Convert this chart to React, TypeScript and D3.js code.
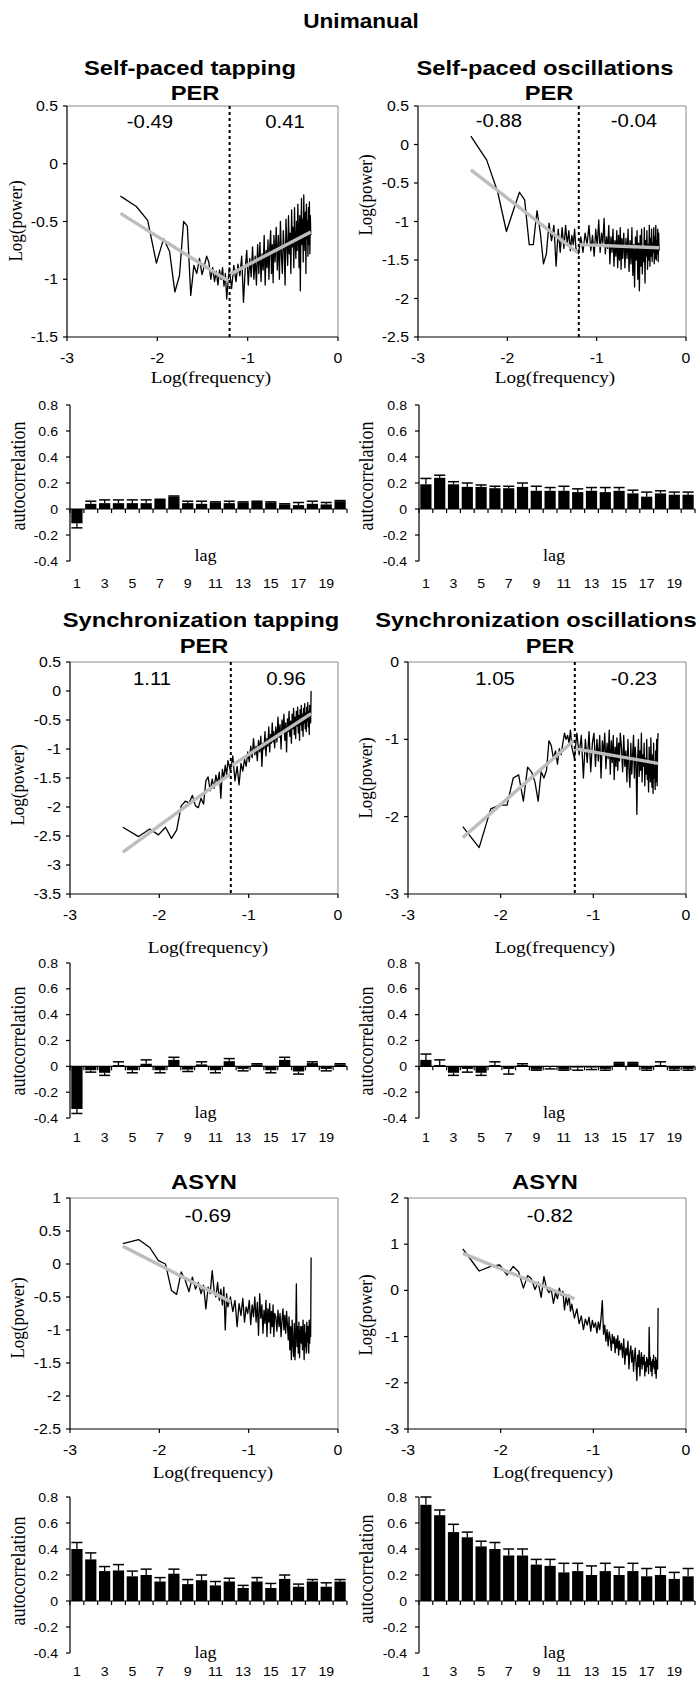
import React from "react";
import * as d3 from "d3";

const SANS = "'Liberation Sans', Arial, Helvetica, sans-serif";
const SERIF = "'Liberation Serif', 'Times New Roman', serif";
const SX = 1.13;

// frequency grid: log10(k / 512)
const FREQ_INDEX = [...d3.range(2, 31), ...d3.range(32, 101, 2), ...d3.range(103, 257, 3)];
const LOG_FREQ = FREQ_INDEX.map((k) => Math.log10(k / 512));

const PER_SP_TAP = [
  -0.28, -0.37, -0.49, -0.86, -0.65, -0.76, -1.11, -0.97, -0.5, -0.54, -1.14, -0.88, -0.95, -0.82, -0.96, -0.88, -0.8, -0.85, -1.0, -0.9, -1.02, -0.93, -1.05, -0.92, -1.0, -0.9, -1.06, -0.95, -1.17,
  -0.9, -1.08, -0.88, -1.02, -0.87, -0.97, -0.8, -1.2, -0.92, -0.75, -1.05, -0.82, -0.98, -0.72, -1.0, -0.8, -1.05, -0.7, -0.95, -0.68, -1.02, -0.78, -0.92, -0.62, -1.05, -0.75, -0.9, -0.66, -1.0, -0.72, -0.58, -0.95, -0.7, -1.03, -0.62,
  -0.85, -0.55, -0.92, -0.62, -1.0, -0.5, -0.8, -0.95, -0.58, -0.75, -1.05, -0.48, -0.7, -0.88, -0.45, -0.78, -0.6, -0.95, -0.4, -0.72, -0.55, -0.9, -0.38, -0.68, -0.82, -0.5, -0.75, -0.35, -0.62, -0.9, -0.45, -1.1, -0.55, -0.3, -0.7, -0.48, -0.85, -0.27, -0.6, -0.75, -0.42, -0.95, -0.35, -0.65, -0.5, -0.8, -0.38, -0.7, -0.33, -0.78, -0.45, -0.62,
];
const PER_SP_OSC = [
  0.11, -0.2, -0.62, -1.13, -0.85, -0.62, -0.72, -1.3, -1.3, -0.86, -1.15, -1.55, -1.42, -1.02, -1.25, -1.05, -1.58, -1.1, -1.4, -1.08, -1.35, -1.05, -1.3, -1.12, -1.38, -1.18, -1.3, -1.1, -1.35,
  -1.42, -1.2, -1.4, -1.15, -1.3, -1.05, -1.38, -1.18, -1.45, -1.1, -1.32, -0.98, -1.4, -1.15, -1.28, -0.96, -1.42, -1.2, -1.35, -1.05, -1.55, -1.2, -1.4, -1.1, -1.58, -1.25, -1.45, -1.12, -1.6, -1.18, -1.5, -1.08, -1.62, -1.22, -1.48,
  -1.15, -1.6, -1.22, -1.48, -1.1, -1.65, -1.25, -1.55, -1.08, -1.7, -1.3, -1.85, -1.2, -1.5, -1.12, -1.75, -1.28, -1.9, -1.18, -1.58, -1.1, -1.68, -1.35, -1.52, -1.08, -1.8, -1.25, -1.45, -1.12, -1.62, -1.3, -1.5, -1.05, -1.58, -1.22, -1.45, -1.1, -1.52, -1.28, -1.4, -1.08, -1.55, -1.2, -1.48, -1.05, -1.5, -1.25, -1.42, -1.1, -1.52, -1.15, -1.38,
];
const PER_SYNC_TAP = [
  -2.35, -2.51, -2.38, -2.48, -2.35, -2.54, -2.4, -1.98, -1.9, -1.93, -1.8, -1.98, -2.01, -1.85, -1.95, -1.55, -1.48, -1.72, -1.52, -1.68, -1.45, -1.6, -1.4, -1.85, -1.35, -1.5, -1.28, -1.45, -1.2,
  -1.38, -1.12, -1.55, -1.3, -1.62, -1.25, -1.38, -1.18, -1.3, -1.05, -1.22, -0.95, -1.15, -0.82, -1.1, -0.95, -1.2, -0.85, -1.05, -0.78, -1.3, -0.9, -1.0, -0.7, -1.12, -0.82, -0.95, -0.62, -1.05, -0.75, -0.9, -0.55, -0.88, -0.7, -0.98,
  -0.62, -0.88, -0.45, -0.8, -0.58, -1.0, -0.5, -0.72, -0.4, -0.85, -0.55, -1.05, -0.48, -0.7, -0.35, -0.78, -0.52, -0.9, -0.4, -0.65, -0.3, -0.75, -0.45, -0.82, -0.35, -0.6, -0.28, -0.72, -0.42, -0.85, -0.32, -0.58, -0.25, -0.68, -0.4, -0.78, -0.3, -0.55, -0.22, -0.65, -0.38, -0.7, -0.28, -0.52, -0.2, -0.62, -0.35, -0.75, -0.25, -0.48, -0.55, 0.0,
];
const PER_SYNC_OSC = [
  -2.13, -2.4, -1.9, -1.85, -1.85, -1.5, -1.46, -1.8, -1.36, -1.42, -1.55, -1.8, -1.42, -1.5, -1.4, -1.02, -1.08, -1.25, -1.15, -1.32, -1.12, -1.2, -1.05, -0.92, -1.0, -0.95, -1.05, -0.88, -1.1,
  -1.25, -0.92, -1.2, -0.95, -1.5, -1.0, -1.3, -0.9, -1.42, -1.05, -0.92, -1.35, -1.0, -1.28, -0.95, -1.5, -1.02, -1.2, -0.92, -1.38, -1.05, -1.25, -0.88, -1.45, -1.02, -1.3, -0.95, -1.52, -1.1, -1.35, -0.98, -1.4, -1.05, -1.28, -0.92,
  -1.1, -1.42, -0.95, -1.35, -1.15, -1.55, -1.0, -1.38, -1.62, -1.05, -1.45, -1.2, -0.95, -1.5, -1.1, -1.3, -1.97, -1.25, -1.0, -1.48, -1.15, -1.4, -0.92, -1.55, -1.2, -1.35, -1.05, -1.6, -1.25, -1.45, -1.0, -1.52, -1.3, -1.68, -1.1, -1.4, -1.55, -0.98, -1.45, -1.62, -1.2, -1.7, -1.05, -1.5, -1.35, -1.65, -1.15, -1.55, -1.0, -1.6, -1.05, -0.92,
];
const ASYN_TAP = [
  0.31, 0.37, 0.25, 0.05, 0.0, -0.4, -0.46, -0.12, -0.25, -0.42, -0.2, -0.38, -0.28, -0.45, -0.32, -0.68, -0.35, -0.45, -0.1, -0.4, -0.5, -0.28, -0.55, -0.38, -0.62, -0.35, -1.0, -0.45, -0.65,
  -0.5, -0.72, -0.55, -0.95, -0.6, -0.78, -0.52, -0.88, -0.65, -0.75, -0.55, -0.92, -0.62, -0.8, -0.5, -0.88, -0.58, -1.08, -0.45, -0.82, -0.62, -1.05, -0.7, -0.9, -0.55, -1.1, -0.68, -0.88, -0.6, -1.05, -0.72, -0.95, -0.62, -1.1, -0.75,
  -0.8, -1.02, -0.7, -0.95, -0.75, -1.1, -0.85, -0.68, -1.0, -0.78, -1.05, -0.72, -0.92, -1.15, -0.8, -1.3, -0.95, -1.45, -0.85, -1.2, -1.4, -0.9, -1.45, -1.1, -0.3, -1.25, -0.95, -1.35, -0.88, -1.42, -1.05, -0.95, -1.2, -0.95, -1.3, -0.85, -1.15, -1.45, -0.92, -1.25, -1.05, -1.35, -0.88, -1.18, -0.95, -1.3, -1.35, -0.85, -1.2, -0.92, -1.1, 0.1,
];
const ASYN_OSC = [
  0.9, 0.42, 0.52, 0.55, 0.33, 0.52, 0.4, 0.05, 0.32, 0.25, 0.02, 0.18, -0.15, 0.3, 0.05, -0.05, 0.02, -0.28, -0.05, -0.18, 0.05, -0.1, -0.02, -0.42, -0.15, -0.32, -0.1, -0.45, -0.3,
  -0.6, -0.4, -0.72, -0.55, -0.85, -0.62, -0.75, -0.58, -0.88, -0.65, -0.8, -0.7, -0.92, -0.68, -0.85, -0.6, -0.22, -0.95, -0.75, -1.1, -0.85, -1.2, -0.9, -1.05, -1.3, -0.95, -1.15, -1.0, -1.35, -1.05, -1.25, -0.98, -1.4, -1.1, -1.28,
  -1.15, -1.45, -1.05, -1.6, -1.25, -1.4, -1.1, -1.7, -1.35, -1.2, -1.55, -1.3, -1.75, -1.45, -1.25, -1.6, -1.95, -1.4, -1.65, -1.3, -1.85, -1.5, -1.35, -1.7, -1.45, -1.6, -1.4, -1.85, -1.55, -1.75, -1.45, -1.65, -1.5, -1.8, -0.8, -1.6, -1.45, -1.75, -1.55, -1.85, -1.5, -1.65, -1.4, -1.7, -1.55, -1.8, -1.45, -1.9, -1.6, -1.5, -1.7, -0.38,
];

// linear fits: [logFreq, logPower] endpoints
const FIT_SP_TAP = [[[-2.408, -0.43], [-1.204, -1.02]], [[-1.204, -0.96], [-0.301, -0.59]]];
const FIT_SP_OSC = [[[-2.408, -0.33], [-1.204, -1.41]], [[-1.204, -1.3], [-0.301, -1.34]]];
const FIT_SYNC_TAP = [[[-2.408, -2.78], [-1.204, -1.43]], [[-1.204, -1.3], [-0.301, -0.39]]];
const FIT_SYNC_OSC = [[[-2.408, -2.27], [-1.204, -1.01]], [[-1.204, -1.12], [-0.301, -1.31]]];
const FIT_ASYN_TAP = [[[-2.408, 0.27], [-1.204, -0.57]]];
const FIT_ASYN_OSC = [[[-2.408, 0.8], [-1.204, -0.18]]];

const X_TICKS = [-3, -2, -1, 0];

// autocorrelation
const LAGS = d3.range(1, 21);
const LAG_LABELS = [1, 3, 5, 7, 9, 11, 13, 15, 17, 19];
const ACF_TICKS = [-0.4, -0.2, 0, 0.2, 0.4, 0.6, 0.8];

const ACF_SP_TAP = [-0.11, 0.04, 0.045, 0.045, 0.045, 0.045, 0.07, 0.095, 0.045, 0.04, 0.05, 0.045, 0.05, 0.055, 0.05, 0.035, 0.03, 0.04, 0.035, 0.06];
const ERR_SP_TAP = [0.035, 0.02, 0.025, 0.025, 0.025, 0.025, 0.005, 0.005, 0.015, 0.02, 0.005, 0.015, 0.005, 0.005, 0.005, 0.005, 0.02, 0.02, 0.015, 0.005];
const ACF_SP_OSC = [0.19, 0.24, 0.19, 0.17, 0.17, 0.16, 0.16, 0.17, 0.14, 0.14, 0.14, 0.13, 0.14, 0.13, 0.14, 0.12, 0.095, 0.12, 0.11, 0.11];
const ERR_SP_OSC = [0.045, 0.02, 0.02, 0.03, 0.015, 0.015, 0.015, 0.03, 0.035, 0.025, 0.035, 0.025, 0.025, 0.035, 0.025, 0.025, 0.035, 0.02, 0.02, 0.02];
const ACF_SYNC_TAP = [-0.33, -0.03, -0.05, 0.01, -0.03, 0.02, -0.03, 0.05, -0.025, 0.015, -0.03, 0.04, -0.02, 0.015, -0.03, 0.05, -0.04, 0.025, -0.02, 0.015];
const ERR_SYNC_TAP = [0.035, 0.015, 0.02, 0.025, 0.02, 0.03, 0.02, 0.02, 0.015, 0.02, 0.02, 0.02, 0.015, 0.005, 0.02, 0.02, 0.02, 0.01, 0.015, 0.005];
const ACF_SYNC_OSC = [0.05, 0.01, -0.05, -0.02, -0.05, 0.01, -0.02, 0.01, -0.025, -0.005, -0.025, -0.01, -0.01, -0.02, 0.025, 0.025, -0.02, 0.01, -0.02, -0.02];
const ERR_SYNC_OSC = [0.045, 0.04, 0.02, 0.025, 0.02, 0.025, 0.04, 0.01, 0.005, 0.015, 0.005, 0.02, 0.015, 0.01, 0.005, 0.005, 0.01, 0.025, 0.01, 0.01];
const ACF_ASYN_TAP = [0.4, 0.32, 0.23, 0.235, 0.19, 0.2, 0.15, 0.21, 0.13, 0.16, 0.12, 0.15, 0.1, 0.15, 0.1, 0.17, 0.11, 0.15, 0.11, 0.15];
const ERR_ASYN_TAP = [0.05, 0.05, 0.035, 0.045, 0.04, 0.045, 0.03, 0.035, 0.035, 0.04, 0.03, 0.025, 0.02, 0.03, 0.035, 0.03, 0.02, 0.015, 0.03, 0.015];
const ACF_ASYN_OSC = [0.74, 0.66, 0.53, 0.49, 0.42, 0.4, 0.35, 0.35, 0.28, 0.27, 0.22, 0.23, 0.2, 0.23, 0.2, 0.23, 0.19, 0.2, 0.17, 0.19];
const ERR_ASYN_OSC = [0.06, 0.04, 0.06, 0.04, 0.04, 0.05, 0.05, 0.05, 0.04, 0.05, 0.07, 0.06, 0.07, 0.06, 0.06, 0.06, 0.06, 0.06, 0.05, 0.06];

const fmt = (v: number) => String(Math.round(v * 10) / 10);

type TxtProps = {
  x: number; y: number; size: number; text: string;
  anchor?: string; weight?: string; family?: string; rot?: boolean;
};
function Txt({ x, y, size, text, anchor = "middle", weight = "normal", family = SANS, rot = false }: TxtProps) {
  const tf = rot
    ? `translate(${x},${y}) rotate(-90) scale(1,${SX})`
    : `translate(${x},${y}) scale(${SX},1)`;
  return (
    <text
      transform={tf}
      fontSize={size}
      fontFamily={family}
      fontWeight={weight}
      textAnchor={anchor}
      dominantBaseline={rot ? "central" : "auto"}
      fill="#000"
    >
      {text}
    </text>
  );
}

type PerCfg = {
  left: number; right: number; top: number; bottom: number;
  yMin: number; yMax: number; yStep: number;
  values: number[]; fits: number[][][];
  breakAt: number | null;
  slopes: { text: string; cx: number }[]; slopeY: number;
  titles: { text: string; cx: number; y: number }[];
  tickY: number; xLabel: { cx: number; y: number }; yLabel: { cx: number; cy: number };
};

function PerPanel({ p }: { p: PerCfg }) {
  const x = d3.scaleLinear().domain([-3, 0]).range([p.left, p.right]);
  const y = d3.scaleLinear().domain([p.yMin, p.yMax]).range([p.bottom, p.top]);
  const line = d3.line<number[]>().x((d) => x(d[0])).y((d) => y(d[1]));
  const pts = d3.zip(LOG_FREQ, p.values);
  const yTicks = d3.range(p.yMin, p.yMax + 1e-6, p.yStep);
  return (
    <g>
      <line x1={p.left} x2={p.right} y1={p.top} y2={p.top} stroke="#8a8a8a" strokeWidth={1} />
      <line x1={p.right} x2={p.right} y1={p.top} y2={p.bottom} stroke="#8a8a8a" strokeWidth={1} />
      <path d={line(pts) || ""} fill="none" stroke="#000" strokeWidth={1.3} strokeLinejoin="round" />
      {p.fits.map((f, i) => (
        <path key={i} d={line(f) || ""} fill="none" stroke="#bdbdbd" strokeWidth={3.4} />
      ))}
      {p.breakAt !== null && (
        <line x1={x(p.breakAt)} x2={x(p.breakAt)} y1={p.top} y2={p.bottom} stroke="#000" strokeWidth={2} strokeDasharray="3,3" />
      )}
      <line x1={p.left} x2={p.left} y1={p.top} y2={p.bottom} stroke="#000" strokeWidth={1.2} />
      <line x1={p.left} x2={p.right} y1={p.bottom} y2={p.bottom} stroke="#000" strokeWidth={1.2} />
      {yTicks.map((v) => (
        <g key={"y" + v}>
          <line x1={p.left - 4} x2={p.left} y1={y(v)} y2={y(v)} stroke="#000" strokeWidth={1.2} />
          <Txt x={p.left - 9} y={y(v) + 5} size={14} text={fmt(v)} anchor="end" />
        </g>
      ))}
      {X_TICKS.map((v) => (
        <g key={"x" + v}>
          <line x1={x(v)} x2={x(v)} y1={p.bottom} y2={p.bottom + 4} stroke="#000" strokeWidth={1.2} />
          <Txt x={x(v)} y={p.tickY} size={14} text={fmt(v)} />
        </g>
      ))}
      {p.slopes.map((s, i) => (
        <Txt key={"s" + i} x={s.cx} y={p.slopeY} size={18} text={s.text} />
      ))}
      {p.titles.map((t, i) => (
        <Txt key={"t" + i} x={t.cx} y={t.y} size={21} weight="bold" text={t.text} />
      ))}
      <Txt x={p.xLabel.cx} y={p.xLabel.y} size={17} family={SERIF} text="Log(frequency)" />
      <Txt x={p.yLabel.cx} y={p.yLabel.cy} size={17} family={SERIF} text="Log(power)" rot />
    </g>
  );
}

type AcfCfg = {
  left: number; right: number; top: number; bottom: number;
  values: number[]; errs: number[];
  labelX: number; labelCy: number; lagY: number; lagLabelY: number;
};

function AcfPanel({ b }: { b: AcfCfg }) {
  const xb = d3.scaleBand<number>().domain(LAGS).range([b.left, b.right]).padding(0);
  const y = d3.scaleLinear().domain([-0.4, 0.8]).range([b.bottom, b.top]);
  const bw = xb.bandwidth();
  const y0 = y(0);
  return (
    <g>
      {LAGS.map((l, i) => {
        const v = b.values[i];
        const e = b.errs[i];
        const bx = (xb(l) as number) + 1.3;
        const cx = (xb(l) as number) + bw / 2;
        const end = v + (v < 0 ? -e : e);
        return (
          <g key={l}>
            <rect x={bx} width={bw - 2.6} y={Math.min(y(v), y0)} height={Math.abs(y(v) - y0)} fill="#000" />
            <line x1={cx} x2={cx} y1={y(v)} y2={y(end)} stroke="#000" strokeWidth={1.3} />
            <line x1={cx - bw * 0.4} x2={cx + bw * 0.4} y1={y(end)} y2={y(end)} stroke="#000" strokeWidth={1.5} />
          </g>
        );
      })}
      <line x1={b.left} x2={b.left} y1={b.top} y2={b.bottom} stroke="#000" strokeWidth={1.2} />
      <line x1={b.left} x2={b.right} y1={y0} y2={y0} stroke="#000" strokeWidth={1.2} />
      {d3.range(0, LAGS.length + 1).map((i) => (
        <line key={"bt" + i} x1={b.left + i * bw} x2={b.left + i * bw} y1={y0} y2={y0 + 4} stroke="#000" strokeWidth={1.2} />
      ))}
      {ACF_TICKS.map((v) => (
        <g key={"a" + v}>
          <line x1={b.left - 4} x2={b.left} y1={y(v)} y2={y(v)} stroke="#000" strokeWidth={1.2} />
          <Txt x={b.left - 12} y={y(v) + 4.5} size={12.5} text={fmt(v)} anchor="end" />
        </g>
      ))}
      {LAG_LABELS.map((l) => (
        <Txt key={"l" + l} x={(xb(l) as number) + bw / 2} y={b.lagLabelY} size={12.5} text={String(l)} />
      ))}
      <Txt x={(b.left + b.right) / 2 - 3} y={b.lagY} size={16} family={SERIF} text="lag" />
      <Txt x={b.labelX} y={b.labelCy} size={18} family={SERIF} text="autocorrelation" rot />
    </g>
  );
}

const PER_PANELS: PerCfg[] = [
  {
    left: 67, right: 338, top: 106, bottom: 337, yMin: -1.5, yMax: 0.5, yStep: 0.5,
    values: PER_SP_TAP, fits: FIT_SP_TAP, breakAt: -1.2,
    slopes: [{ text: "-0.49", cx: 150 }, { text: "0.41", cx: 285 }], slopeY: 128,
    titles: [{ text: "Self-paced tapping", cx: 190, y: 75 }, { text: "PER", cx: 195, y: 100 }],
    tickY: 363, xLabel: { cx: 211, y: 383 }, yLabel: { cx: 16, cy: 221 },
  },
  {
    left: 418, right: 686, top: 106, bottom: 337, yMin: -2.5, yMax: 0.5, yStep: 0.5,
    values: PER_SP_OSC, fits: FIT_SP_OSC, breakAt: -1.2,
    slopes: [{ text: "-0.88", cx: 499 }, { text: "-0.04", cx: 634 }], slopeY: 127,
    titles: [{ text: "Self-paced oscillations", cx: 545, y: 75 }, { text: "PER", cx: 549, y: 100 }],
    tickY: 363, xLabel: { cx: 555, y: 383 }, yLabel: { cx: 365.5, cy: 195 },
  },
  {
    left: 70, right: 338, top: 662, bottom: 894, yMin: -3.5, yMax: 0.5, yStep: 0.5,
    values: PER_SYNC_TAP, fits: FIT_SYNC_TAP, breakAt: -1.2,
    slopes: [{ text: "1.11", cx: 152 }, { text: "0.96", cx: 286 }], slopeY: 685,
    titles: [{ text: "Synchronization tapping", cx: 201, y: 627 }, { text: "PER", cx: 204, y: 653 }],
    tickY: 920, xLabel: { cx: 208, y: 953 }, yLabel: { cx: 17.5, cy: 785 },
  },
  {
    left: 408, right: 686, top: 662, bottom: 894, yMin: -3, yMax: 0, yStep: 1,
    values: PER_SYNC_OSC, fits: FIT_SYNC_OSC, breakAt: -1.2,
    slopes: [{ text: "1.05", cx: 495 }, { text: "-0.23", cx: 634 }], slopeY: 685,
    titles: [{ text: "Synchronization oscillations", cx: 536, y: 627 }, { text: "PER", cx: 550, y: 653 }],
    tickY: 920, xLabel: { cx: 555, y: 953 }, yLabel: { cx: 365.5, cy: 778 },
  },
  {
    left: 70, right: 338, top: 1198, bottom: 1429, yMin: -2.5, yMax: 1, yStep: 0.5,
    values: ASYN_TAP, fits: FIT_ASYN_TAP, breakAt: null,
    slopes: [{ text: "-0.69", cx: 208 }], slopeY: 1222,
    titles: [{ text: "ASYN", cx: 204, y: 1189 }],
    tickY: 1455, xLabel: { cx: 213, y: 1478 }, yLabel: { cx: 17.5, cy: 1318 },
  },
  {
    left: 408, right: 686, top: 1198, bottom: 1429, yMin: -3, yMax: 2, yStep: 1,
    values: ASYN_OSC, fits: FIT_ASYN_OSC, breakAt: null,
    slopes: [{ text: "-0.82", cx: 550 }], slopeY: 1222,
    titles: [{ text: "ASYN", cx: 545, y: 1189 }],
    tickY: 1455, xLabel: { cx: 553, y: 1478 }, yLabel: { cx: 366, cy: 1315 },
  },
];

const ACF_PANELS: AcfCfg[] = [
  { left: 70, right: 347, top: 405, bottom: 561, values: ACF_SP_TAP, errs: ERR_SP_TAP, labelX: 18.5, labelCy: 476, lagY: 561, lagLabelY: 588 },
  { left: 419, right: 695, top: 405, bottom: 561, values: ACF_SP_OSC, errs: ERR_SP_OSC, labelX: 366.5, labelCy: 476, lagY: 561, lagLabelY: 588 },
  { left: 70, right: 347, top: 963, bottom: 1118, values: ACF_SYNC_TAP, errs: ERR_SYNC_TAP, labelX: 18.5, labelCy: 1041, lagY: 1118, lagLabelY: 1142 },
  { left: 419, right: 695, top: 963, bottom: 1118, values: ACF_SYNC_OSC, errs: ERR_SYNC_OSC, labelX: 366.5, labelCy: 1041, lagY: 1118, lagLabelY: 1142 },
  { left: 70, right: 347, top: 1497, bottom: 1653, values: ACF_ASYN_TAP, errs: ERR_ASYN_TAP, labelX: 18.5, labelCy: 1571, lagY: 1658, lagLabelY: 1676 },
  { left: 419, right: 695, top: 1497, bottom: 1653, values: ACF_ASYN_OSC, errs: ERR_ASYN_OSC, labelX: 366.5, labelCy: 1569, lagY: 1658, lagLabelY: 1676 },
];

export default function App() {
  return (
    <div style={{ position: "absolute", left: 0, top: 0 }}>
      <svg width={696} height={1681} style={{ display: "block", background: "#fff" }}>
        <Txt x={361} y={28} size={20} weight="bold" text="Unimanual" />
        {PER_PANELS.map((p, i) => (
          <PerPanel key={"p" + i} p={p} />
        ))}
        {ACF_PANELS.map((b, i) => (
          <AcfPanel key={"b" + i} b={b} />
        ))}
      </svg>
    </div>
  );
}
